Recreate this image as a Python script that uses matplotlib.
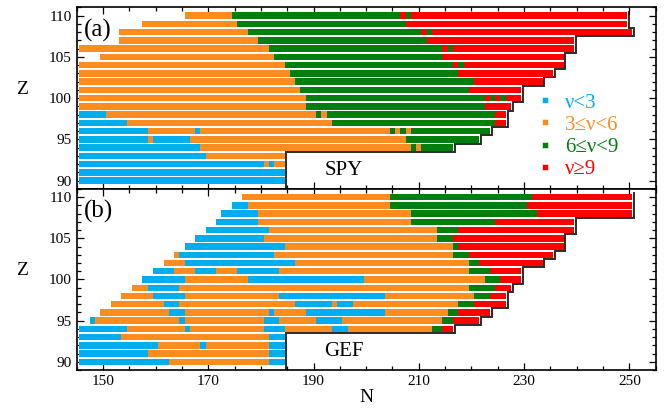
import matplotlib
matplotlib.use('Agg')

import numpy as np
import matplotlib.pyplot as plt
from matplotlib.lines import Line2D
from matplotlib.ticker import MultipleLocator


# proton numbers, top row first
z_values = list(range(110, 89, -1))

# segment edges (in N) and nu-class of each segment, one entry per Z row
# classes: b = nu<3, o = 3<=nu<6, g = 6<=nu<9, r = nu>=9
spy_edges = [
    [165.5, 174.5, 206.5, 207.5, 208.5, 249.5],
    [157.5, 175.5, 207.5, 249.5],
    [153.0, 177.5, 210.5, 211.5, 212.5, 250.5],
    [153.0, 179.5, 211.5, 239.5],
    [145.5, 181.5, 214.5, 215.5, 216.5, 239.5],
    [149.5, 182.5, 214.5, 237.5],
    [145.5, 184.5, 216.5, 217.5, 218.5, 237.5],
    [145.5, 185.5, 217.5, 235.5],
    [145.5, 186.5, 220.5, 233.5],
    [145.5, 187.5, 219.5, 229.5],
    [145.5, 188.5, 222.5, 223.5, 224.5, 225.5, 226.5, 229.5],
    [145.5, 188.5, 222.5, 227.5],
    [145.5, 150.5, 190.5, 191.5, 192.5, 224.5, 226.5],
    [145.5, 154.5, 193.5, 224.5, 226.5],
    [145.5, 158.5, 167.5, 168.5, 204.5, 205.5, 206.5, 207.5, 208.5, 223.5],
    [145.5, 158.5, 159.5, 166.5, 207.5, 221.5],
    [145.5, 168.5, 208.5, 209.5, 210.5, 216.5],
    [145.5, 169.5, 184.5],
    [145.5, 180.5, 181.5, 182.5, 184.5],
    [145.5, 184.5],
    [145.5, 184.5],
]
spy_classes = [
    "ogrgr", "ogr", "ogrgr", "ogr", "ogrgr", "ogr", "ogrgr", "ogr", "ogr",
    "ogr", "ogrgrgr", "ogr", "bogogr", "bogr", "bobogogog", "bobog",
    "bogog", "bo", "bobo", "b", "b",
]

gef_edges = [
    [176.5, 204.5, 231.5, 250.5],
    [174.5, 177.5, 204.5, 230.5, 250.5],
    [172.5, 179.5, 208.5, 232.5, 250.5],
    [171.5, 179.5, 208.5, 224.5, 239.5],
    [169.5, 181.5, 213.5, 217.5, 239.5],
    [167.5, 180.5, 213.5, 216.5, 237.5],
    [165.5, 184.5, 216.5, 217.5, 237.5],
    [163.5, 164.5, 182.5, 216.5, 219.5, 235.5],
    [161.5, 165.5, 186.5, 219.5, 221.5, 233.5],
    [159.5, 163.5, 167.5, 171.5, 175.5, 183.5, 219.5, 223.5, 229.5],
    [157.5, 165.5, 177.5, 199.5, 222.5, 225.5, 229.5],
    [155.5, 158.5, 164.5, 219.5, 224.5, 227.5],
    [153.5, 159.5, 165.5, 183.5, 203.5, 220.5, 223.5, 226.5],
    [151.5, 161.5, 164.5, 186.5, 193.5, 194.5, 197.5, 217.5, 220.5, 226.5],
    [149.5, 162.5, 165.5, 181.5, 182.5, 188.5, 203.5, 215.5, 217.5, 223.5],
    [147.5, 148.5, 164.5, 165.5, 180.5, 183.5, 190.5, 195.5, 214.5, 216.5,
     221.5],
    [145.5, 154.5, 165.5, 166.5, 180.5, 184.5, 193.5, 196.5, 212.5, 214.5,
     216.5],
    [145.5, 153.5, 181.5, 184.5],
    [145.5, 160.5, 168.5, 169.5, 181.5, 184.5],
    [145.5, 158.5, 181.5, 184.5],
    [145.5, 162.5, 181.5, 184.5],
]
gef_classes = [
    "ogr", "bogr", "bogr", "bogr", "bogr", "bogr", "bogr", "obogr", "obogr",
    "bobobogr", "bobogr", "obogr", "obobogr", "obobobogr", "obobobogr",
    "bobobobogr", "bobobobogr", "bob", "bobob", "bob", "bob",
]

class_keys = ["b", "o", "g", "r"]
class_labels = ["\u03bd<3", "3\u2264\u03bd<6", "6\u2264\u03bd<9", "\u03bd\u22659"]
class_colors = ["#00aeef", "#fd8c1e", "#007f0e", "#ff0000"]

n_ticks = [150, 170, 190, 210, 230, 250]

plt.rcParams['font.family'] = ['Liberation Serif', 'DejaVu Serif']

color_of = dict(zip(class_keys, class_colors))


def draw_panel(ax, edges, classes, tag, name):
    for z, row, cls in zip(z_values, edges, classes):
        row = np.asarray(row)
        ax.barh([z] * len(cls), np.diff(row), left=row[:-1], height=0.78,
                color=[color_of[c] for c in cls], linewidth=0, zorder=2)

    # dark staircase along the right end of the rows
    ends = [row[-1] + 0.35 for row in edges]
    xs = [ends[0]]
    ys = [z_values[0] + 0.45]
    for i, z in enumerate(z_values):
        xs.append(ends[i])
        ys.append(z - 0.5)
        if i + 1 < len(ends):
            xs.append(ends[i + 1])
            ys.append(z - 0.5)
    xs.append(ends[-1])
    ys.append(88.0)
    ax.plot(xs, ys, color='#2b2b2b', lw=1.4, zorder=1, solid_joinstyle='miter')

    ax.set_xlim(145, 255)
    ax.set_ylim(89, 111)
    ax.set_xticks(n_ticks)
    ax.xaxis.set_minor_locator(MultipleLocator(5))
    ax.yaxis.set_major_locator(MultipleLocator(5))
    ax.yaxis.set_minor_locator(MultipleLocator(1))
    ax.tick_params(which='both', direction='in', top=True, right=True,
                   labelsize=11, width=0.9)
    ax.tick_params(which='major', length=5)
    ax.tick_params(which='minor', length=3)
    for sp in ax.spines.values():
        sp.set_linewidth(1.2)

    ax.text(0.012, 0.875, tag, transform=ax.transAxes, fontsize=18,
            ha='left', va='center')
    ax.text(0.428, 0.10, name, transform=ax.transAxes, fontsize=15,
            ha='left', va='center')
    ax.set_ylabel('Z', rotation=0, fontsize=14)
    ax.yaxis.set_label_coords(-0.095, 0.5)


fig = plt.figure(figsize=(6.67, 4.08), dpi=100)
ax_a = fig.add_axes([0.115, 0.537, 0.868, 0.445])
ax_b = fig.add_axes([0.115, 0.093, 0.868, 0.444])

draw_panel(ax_a, spy_edges, spy_classes, '(a)', 'SPY')
draw_panel(ax_b, gef_edges, gef_classes, '(b)', 'GEF')

ax_a.tick_params(labelbottom=False)
ax_b.set_xlabel('N', fontsize=14, labelpad=1)

handles = [Line2D([], [], ls='', marker='s', markersize=5, color=c,
                  markeredgecolor='white', markeredgewidth=0.4)
           for c in class_colors]
leg = ax_a.legend(handles, class_labels, loc='upper left',
                  bbox_to_anchor=(0.773, 0.585), frameon=False, fontsize=15,
                  handletextpad=0.45, labelspacing=0.12, borderpad=0,
                  handlelength=1.0)
for txt, c in zip(leg.get_texts(), class_colors):
    txt.set_color(c)

fig.savefig('out.png', dpi=100)
